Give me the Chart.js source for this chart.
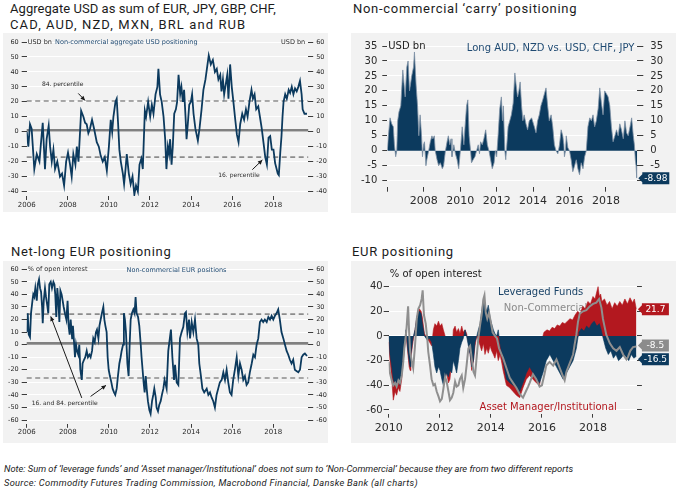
<!DOCTYPE html>
<html>
<head>
<meta charset="utf-8">
<title>CFTC positioning</title>
<script src="https://cdn.jsdelivr.net/npm/chart.js"></script>
<style>
  body { margin: 0; background: #fff; font-family: Roboto, "DejaVu Sans", sans-serif; }
  .page { position: relative; width: 686px; height: 500px; overflow: hidden; }
  .title { position: absolute; font-size: 13px; line-height: 16px; color: #1c1c1c; white-space: nowrap; letter-spacing: 0.7px; }
  .panel { position: absolute; width: 325px; background: #f2f2f2; }
  .note { position: absolute; left: 4px; font-size: 9.3px; font-style: italic; color: #222; white-space: nowrap; }
</style>
</head>
<body>
<div class="page">
  <div class="title" style="left:10px; top:1px"><span style="letter-spacing:0.05px">Aggregate USD as sum of EUR, JPY, GBP, CHF,</span><br><span style="letter-spacing:1.1px">CAD, AUD, NZD, MXN, BRL and RUB</span></div>
  <div class="title" style="left:353px; top:1px">Non-commercial ‘carry’ positioning</div>
  <div class="title" style="left:11px; top:244px">Net-long EUR positioning</div>
  <div class="title" style="left:352px; top:244px">EUR positioning</div>
  <div class="panel" style="left:3px; top:33px; height:179px"><canvas id="usdChart"></canvas></div>
  <div class="panel" style="left:351px; top:33px; height:180px"><canvas id="carryChart"></canvas></div>
  <div class="panel" style="left:3px; top:261px; height:182px"><canvas id="eurChart"></canvas></div>
  <div class="panel" style="left:351px; top:261px; height:182px"><canvas id="eurSplitChart"></canvas></div>
  <div class="note" style="top:463px">Note: Sum of ‘leverage funds’ and ‘Asset manager/Institutional’ does not sum to ‘Non-Commercial’ because they are from two different reports</div>
  <div class="note" style="top:477px; letter-spacing:0.3px">Source: Commodity Futures Trading Commission, Macrobond Financial, Danske Bank (all charts)</div>
</div>
<script>
// ---- data ----
const usdDates = [
  2006.00, 2006.08, 2006.16, 2006.24, 2006.37, 2006.49, 2006.62, 2006.68, 2006.78, 2006.89, 2006.97,
  2007.07, 2007.14, 2007.22, 2007.30, 2007.38, 2007.49, 2007.62, 2007.72, 2007.82, 2007.92,
  2008.01, 2008.11, 2008.19, 2008.27, 2008.37, 2008.44, 2008.52, 2008.65, 2008.76, 2008.84, 2008.92,
  2009.00, 2009.08, 2009.18, 2009.28, 2009.41, 2009.51, 2009.60, 2009.70, 2009.80, 2009.90,
  2010.00, 2010.09, 2010.16, 2010.22, 2010.32, 2010.38, 2010.45, 2010.51, 2010.58, 2010.68, 2010.74, 2010.81, 2010.87, 2010.97,
  2011.06, 2011.15, 2011.24, 2011.32, 2011.41, 2011.49, 2011.58, 2011.65, 2011.75, 2011.81, 2011.91,
  2012.01, 2012.09, 2012.17, 2012.27, 2012.36, 2012.41, 2012.49, 2012.57, 2012.66, 2012.74, 2012.80, 2012.87, 2012.93, 2012.98,
  2013.05, 2013.11, 2013.18, 2013.26, 2013.32, 2013.39, 2013.47, 2013.53, 2013.60, 2013.66, 2013.73, 2013.78, 2013.84, 2013.91, 2013.99,
  2014.05, 2014.12, 2014.21, 2014.33, 2014.41, 2014.51, 2014.60, 2014.70, 2014.77, 2014.86, 2014.96,
  2015.06, 2015.16, 2015.25, 2015.33, 2015.42, 2015.48, 2015.55, 2015.61, 2015.69, 2015.76, 2015.82, 2015.90, 2015.98,
  2016.06, 2016.15, 2016.23, 2016.31, 2016.39, 2016.49, 2016.58, 2016.67, 2016.75, 2016.84, 2016.94,
  2017.01, 2017.09, 2017.17, 2017.27, 2017.35, 2017.44, 2017.53, 2017.61, 2017.69, 2017.77, 2017.85, 2017.93,
  2018.01, 2018.09, 2018.22, 2018.27, 2018.34, 2018.40, 2018.45, 2018.50, 2018.58, 2018.66, 2018.75, 2018.82, 2018.90, 2018.98,
  2019.06, 2019.14, 2019.22, 2019.30, 2019.38, 2019.43, 2019.52, 2019.64
];
const usdValues = [
  0, -10, 5, 2, -25, -15, -20, -10, 6, -25, -5,
  4, -10, -20, -12, -25, -20, -30, -28, -36, -20,
  -14, -22, -30, -15, -22, -10, -20, 14, 10, 6, 5,
  -1, 2, 8, 2, -7, -10, -16, -20, -17, -26,
  -10, 8, 0, 10, 20, 22, 5, -12, -20, -28, -35, -25, -15, -28,
  -35, -30, -42, -36, -40, -22, -18, -25, 14, 10, 20,
  10, 18, 12, 25, 30, 42, 25, 20, 10, -5, -25, -10, -15, -5,
  -22, -10, 12, 15, 20, 38, 25, 30, 20, 28, 10, -5, 5, 18, 20,
  25, 12, 2, -6, 2, 15, 28, 35, 42, 51, 45,
  48, 40, 42, 35, 38, 27, 35, 25, 32, 38, 22, 45, 30,
  20, 8, -2, -7, 5, 12, 8, 15, 10, 20, 28,
  22, 25, 15, 17, 10, 2, -8, -17, -22, -4, -3, -12,
  -12, -21, -28, -29, -14, -3, 10, 20, 25, 22, 28, 26, 30, 25,
  29, 27, 30, 34, 25, 15, 12, 12
];
const usdBands = [20.5, -17];   // 84. and 16. percentile
const usdMean = 1;

const carryDates = [
  2006.00, 2006.06, 2006.15, 2006.24, 2006.33, 2006.39, 2006.46, 2006.52, 2006.57, 2006.64, 2006.74, 2006.85, 2006.98,
  2007.07, 2007.14, 2007.22, 2007.34, 2007.44, 2007.49, 2007.58, 2007.66, 2007.73, 2007.80, 2007.88, 2007.93, 2007.99,
  2008.04, 2008.12, 2008.17, 2008.27, 2008.36, 2008.45, 2008.50, 2008.58, 2008.63, 2008.73, 2008.82, 2008.91,
  2009.02, 2009.09, 2009.19, 2009.28, 2009.35, 2009.43, 2009.50, 2009.55, 2009.65, 2009.74, 2009.83, 2009.92,
  2010.01, 2010.11, 2010.20, 2010.29, 2010.35, 2010.42, 2010.49, 2010.57, 2010.62, 2010.71, 2010.81, 2010.90, 2010.99,
  2011.06, 2011.12, 2011.21, 2011.30, 2011.40, 2011.49, 2011.58, 2011.67, 2011.76, 2011.86, 2011.93,
  2012.00, 2012.08, 2012.17, 2012.26, 2012.32, 2012.37, 2012.45, 2012.50, 2012.56, 2012.63, 2012.72, 2012.81, 2012.91,
  2013.00, 2013.07, 2013.15, 2013.22, 2013.29, 2013.37, 2013.44, 2013.51, 2013.61, 2013.70, 2013.79, 2013.92, 2013.97,
  2014.07, 2014.16, 2014.25, 2014.34, 2014.43, 2014.53, 2014.62, 2014.71, 2014.80, 2014.89, 2014.99,
  2015.08, 2015.17, 2015.26, 2015.36, 2015.45, 2015.54, 2015.63, 2015.69, 2015.72, 2015.78, 2015.82, 2015.91,
  2016.00, 2016.09, 2016.18, 2016.28, 2016.37, 2016.46, 2016.55, 2016.64, 2016.74, 2016.83, 2016.92,
  2017.01, 2017.11, 2017.20, 2017.29, 2017.38, 2017.47, 2017.57, 2017.66, 2017.75, 2017.84, 2017.93,
  2018.03, 2018.12, 2018.21, 2018.30, 2018.39, 2018.49, 2018.58, 2018.67, 2018.76, 2018.85, 2018.95,
  2019.04, 2019.13, 2019.22, 2019.32, 2019.41, 2019.50, 2019.56, 2019.61, 2019.65, 2019.69, 2019.72
];
const carryValues = [
  0, 5, 11, 9, 8, 2, -2, 0, 10, 13, 15, 27, 18,
  28, 30, 20, 25, 28, 33, 22, 15, 5, 12, 5, -2, 2,
  3, -5, -3, 0, 3, 5, 4, 5, 0, -3, -5, -4,
  -6, -5, 0, 3, 5, 2, 4, -2, 2, -1, -3, -6,
  0, 8, 2, 10, 15, 17, 5, 0, -4, -3, -2, 0, 2,
  -1, 3, 2, 4, 7, 2, 0, -3, -6, -4, 0,
  -2, 5, 14, 18, 10, 15, 0, -3, 2, 8, 10, 12, 16,
  26, 22, 18, 20, 23, 15, 10, 12, 9, 7, 10, 11, 10,
  8, 6, 10, 12, 15, 17, 19, 21, 15, 10, 12,
  8, 2, 0, -1, 2, 7, 5, 2, -2, 0, 5, 1,
  0, -3, -7, -5, -3, -6, -8, -4, -6, -2, 0,
  8, 11, 10, 12, 8, 10, 14, 21, 16, 12, 20,
  19, 18, 15, 8, 3, 5, 7, 5, 9, 7, 4,
  10, 6, 5, 8, 11, 5, 2, -3, -5, -9, -8.98
];

const eurDates = [
  2006.00, 2006.05, 2006.10, 2006.16, 2006.21, 2006.28, 2006.32, 2006.37, 2006.42, 2006.49, 2006.54, 2006.60, 2006.65, 2006.70, 2006.75, 2006.78, 2006.83, 2006.89, 2006.94,
  2007.01, 2007.05, 2007.10, 2007.17, 2007.23, 2007.30, 2007.35, 2007.39, 2007.44, 2007.49, 2007.54, 2007.59, 2007.64, 2007.70, 2007.75, 2007.80, 2007.86, 2007.93, 2007.99,
  2008.04, 2008.09, 2008.14, 2008.21, 2008.25, 2008.30, 2008.35, 2008.40, 2008.45, 2008.51, 2008.56, 2008.61, 2008.68, 2008.72, 2008.79, 2008.85, 2008.92, 2008.98,
  2009.05, 2009.11, 2009.18, 2009.24, 2009.31, 2009.37, 2009.42, 2009.49, 2009.54, 2009.60, 2009.66, 2009.73, 2009.78, 2009.83, 2009.89, 2009.94, 2009.99,
  2010.05, 2010.12, 2010.18, 2010.25, 2010.31, 2010.38, 2010.44, 2010.51, 2010.57, 2010.62, 2010.69, 2010.73, 2010.78, 2010.83, 2010.90, 2010.96,
  2011.01, 2011.06, 2011.12, 2011.19, 2011.25, 2011.30, 2011.35, 2011.42, 2011.48, 2011.55, 2011.59, 2011.64, 2011.69, 2011.74, 2011.79, 2011.84, 2011.90, 2011.97,
  2012.03, 2012.10, 2012.16, 2012.21, 2012.28, 2012.32, 2012.39, 2012.45, 2012.52, 2012.58, 2012.65, 2012.71, 2012.81, 2012.89,
  2013.02, 2013.09, 2013.17, 2013.22, 2013.30, 2013.38, 2013.46, 2013.54, 2013.62, 2013.70, 2013.75, 2013.82, 2013.90, 2013.95,
  2014.03, 2014.11, 2014.19, 2014.27, 2014.35, 2014.40, 2014.48, 2014.55, 2014.64, 2014.76, 2014.84, 2014.92,
  2015.00, 2015.08, 2015.16, 2015.24, 2015.32, 2015.40, 2015.49, 2015.57, 2015.65, 2015.73, 2015.81, 2015.89, 2015.97,
  2016.05, 2016.13, 2016.22, 2016.30, 2016.38, 2016.46, 2016.54, 2016.62, 2016.70, 2016.78, 2016.86, 2016.95,
  2017.03, 2017.11, 2017.19, 2017.27, 2017.35, 2017.43, 2017.51, 2017.59, 2017.68, 2017.76, 2017.84, 2017.92,
  2018.00, 2018.08, 2018.16, 2018.24, 2018.32, 2018.40, 2018.49, 2018.57, 2018.65, 2018.73, 2018.81, 2018.89, 2018.97,
  2019.05, 2019.13, 2019.22, 2019.30, 2019.38, 2019.46, 2019.54, 2019.64
];
const eurValues = [
  10, 25, 8, 6, 25, 35, 40, 38, 45, 35, 48, 52, 45, 42, 30, 17, 35, 45, 38,
  30, 25, 48, 50, 45, 50, 48, 40, 22, 45, 35, 18, 43, 40, 35, 30, 25, 20, 35,
  15, 8, 20, 5, 15, 3, -10, 0, -5, -8, 0, -20, -28, -15, -12, -10, -5, -10,
  -8, -10, -5, 5, 2, 10, 12, 5, 15, 20, 25, 30, 20, 15, 10, -10, -20,
  -25, -30, -35, -38, -40, -35, -25, -15, -10, -5, 0, 25, 20, 10, -15, -25,
  0, 20, 25, 28, 25, 38, 25, 22, 15, 0, -10, -20, -30, -38, -25, -35, -45, -52,
  -55, -45, -40, -35, -42, -50, -53, -48, -45, -40, -35, -28, -35, -5,
  12, -10, -28, -16, -30, -32, 5, 10, 14, 25, 26, 10, 20, 5,
  18, 10, 20, 5, 0, -15, -25, -35, -38, -35, -40, -38,
  -42, -45, -50, -40, -35, -30, -28, -22, -28, -20, -30, -38, -40,
  -28, -20, -10, -25, -15, -20, -28, -25, -32, -30, -22, -15,
  -8, -10, 0, 5, 18, 20, 18, 20, 18, 22, 20, 23,
  20, 23, 25, 28, 20, 10, 5, 0, -5, -8, -12, -15, -12,
  -20, -21, -22, -20, -10, -8, -7, -9
];
const eurBands = [24.3, -26.5];
const eurMean = 1;

// Non-Commercial (grey line)
const ncDates = [
  2010.00, 2010.05, 2010.12, 2010.18, 2010.25, 2010.31, 2010.38, 2010.44, 2010.51, 2010.57, 2010.61, 2010.67, 2010.70, 2010.76, 2010.80, 2010.84, 2010.90, 2010.96,
  2011.03, 2011.10, 2011.16, 2011.23, 2011.29, 2011.33, 2011.38, 2011.45, 2011.51, 2011.55, 2011.62, 2011.68, 2011.75, 2011.81, 2011.88, 2011.95,
  2012.01, 2012.08, 2012.14, 2012.21, 2012.27, 2012.34, 2012.40, 2012.47, 2012.53, 2012.60, 2012.66, 2012.73, 2012.79, 2012.86, 2012.92, 2012.99,
  2013.05, 2013.12, 2013.19, 2013.25, 2013.32, 2013.38, 2013.45, 2013.51, 2013.58, 2013.64, 2013.71, 2013.75, 2013.80, 2013.86, 2013.93,
  2014.00, 2014.07, 2014.16, 2014.24, 2014.32, 2014.48, 2014.61, 2014.74, 2014.87,
  2015.00, 2015.13, 2015.26, 2015.37, 2015.46, 2015.52, 2015.65, 2015.78, 2015.91,
  2016.00, 2016.10, 2016.17, 2016.30, 2016.44, 2016.57, 2016.70, 2016.83, 2016.89, 2016.96,
  2017.09, 2017.22, 2017.28, 2017.35, 2017.41, 2017.48, 2017.61, 2017.74, 2017.87,
  2018.00, 2018.13, 2018.24, 2018.33, 2018.39, 2018.46, 2018.52, 2018.66, 2018.79, 2018.92,
  2019.05, 2019.18, 2019.31, 2019.37, 2019.46, 2019.57, 2019.70
];
const ncValues = [
  -21, -30, -36, -40, -38, -41, -36, -38, -32, -21, -10, 0, 7, 24, 3, -13, -20, -26,
  -8, 14, 22, 25, 30, 37, 17, 10, -2, -13, -24, -35, -40, -39, -45, -49,
  -53, -51, -43, -33, -37, -45, -52, -50, -46, -37, -41, -40, -35, -32, -42, -35,
  -24, -10, -8, -18, -29, -32, -16, -2, 9, 17, 30, 33, 19, 14, 19,
  11, 3, 0, -2, -10, -18, -26, -34, -38,
  -42, -47, -50, -45, -41, -38, -31, -35, -41,
  -40, -31, -24, -21, -24, -19, -26, -33, -36, -29,
  -22, -15, -7, 1, 11, 18, 20, 21, 24,
  26, 27, 30, 23, 14, 7, 1, -6, -10, -12,
  -9, -15, -19, -17, -12, -9, -8.5
];

// Leveraged Funds (navy area)
const levDates = [
  2010.00, 2010.05, 2010.12, 2010.18, 2010.25, 2010.31, 2010.38, 2010.44, 2010.51, 2010.57, 2010.61, 2010.67, 2010.70, 2010.74, 2010.80, 2010.84, 2010.87, 2010.93, 2010.97,
  2011.03, 2011.10, 2011.16, 2011.20, 2011.27, 2011.32, 2011.36, 2011.40, 2011.50, 2011.60, 2011.68, 2011.75, 2011.81, 2011.88, 2011.95,
  2012.01, 2012.08, 2012.14, 2012.21, 2012.27, 2012.34, 2012.40, 2012.47, 2012.53, 2012.60, 2012.66, 2012.73, 2012.79, 2012.86, 2012.92, 2012.99,
  2013.05, 2013.12, 2013.19, 2013.25, 2013.32, 2013.38, 2013.45, 2013.51, 2013.58, 2013.64, 2013.71, 2013.77, 2013.84, 2013.90, 2013.97,
  2014.03, 2014.10, 2014.16, 2014.23, 2014.29, 2014.35, 2014.48, 2014.61, 2014.74, 2014.87,
  2015.00, 2015.13, 2015.26, 2015.39, 2015.52, 2015.65, 2015.78, 2015.91,
  2016.04, 2016.17, 2016.31, 2016.44, 2016.57, 2016.70, 2016.83, 2016.96,
  2017.09, 2017.22, 2017.35, 2017.42, 2017.45, 2017.55, 2017.65, 2017.75, 2017.85, 2017.95,
  2018.05, 2018.15, 2018.25, 2018.32, 2018.40, 2018.50, 2018.60, 2018.70, 2018.80, 2018.90,
  2019.00, 2019.10, 2019.20, 2019.30, 2019.40, 2019.50, 2019.60, 2019.70
];
const levValues = [
  0, -15, -25, -35, -40, -38, -35, -40, -30, -15, -10, 5, 0, -10, -20, -25, -15, -5, 0,
  5, 15, 18, 20, 18, 10, 5, 0, -3, -2, -5, -15, -25, -30, -25,
  -28, -35, -40, -35, -30, -33, -28, -30, -20, -25, -30, -20, -10, -5, -2, 5,
  0, -8, -15, -25, -20, -5, 0, 5, 10, 20, 30, 25, 20, 25, 15,
  10, 5, 2, 0, 5, -5, -20, -35, -38, -40,
  -42, -45, -38, -30, -25, -30, -35, -38,
  -30, -20, -15, -20, -25, -30, -35, -30,
  -25, -20, -10, 0, 3, 6, 4, 8, 6, 10,
  12, 8, 10, 5, -2, -10, -15, -12, -18, -15,
  -20, -18, -15, -17, -20, -15, -18, -16.5
];

// Asset Manager/Institutional (red area)
const amDates = [
  2010.00, 2010.05, 2010.12, 2010.18, 2010.25, 2010.31, 2010.38, 2010.44, 2010.51, 2010.57, 2010.61, 2010.67, 2010.70, 2010.74, 2010.80, 2010.84, 2010.87, 2010.93, 2010.97,
  2011.03, 2011.10, 2011.16, 2011.20, 2011.27, 2011.32, 2011.36, 2011.40, 2011.50, 2011.60, 2011.68, 2011.75, 2011.81, 2011.88, 2011.95,
  2012.01, 2012.08, 2012.14, 2012.21, 2012.27, 2012.34, 2012.40, 2012.47, 2012.53, 2012.60, 2012.66, 2012.73, 2012.79, 2012.86, 2012.92, 2012.99,
  2013.05, 2013.12, 2013.19, 2013.25, 2013.32, 2013.38, 2013.45, 2013.51, 2013.58, 2013.64, 2013.71, 2013.77, 2013.84, 2013.90, 2013.97,
  2014.03, 2014.10, 2014.16, 2014.23, 2014.29, 2014.36, 2014.43, 2014.48, 2014.61, 2014.74, 2014.87,
  2015.00, 2015.13, 2015.26, 2015.39, 2015.52, 2015.65, 2015.78, 2015.91, 2015.98,
  2016.04, 2016.08, 2016.20, 2016.30, 2016.40, 2016.50, 2016.60, 2016.70, 2016.80, 2016.90,
  2017.00, 2017.10, 2017.20, 2017.30, 2017.40, 2017.50, 2017.60, 2017.70, 2017.80, 2017.90,
  2018.00, 2018.08, 2018.15, 2018.20, 2018.25, 2018.30, 2018.35, 2018.45, 2018.55, 2018.65, 2018.75, 2018.85, 2018.95,
  2019.05, 2019.15, 2019.25, 2019.35, 2019.45, 2019.55, 2019.62, 2019.70
];
const amValues = [
  -5, -20, -35, -52, -45, -48, -42, -45, -35, -20, -12, 0, -3, -12, -25, -28, -18, -8, -2,
  5, 15, 20, 22, 20, 15, 8, 2, -2, -5, -8, 5, 10, 8, 12,
  8, 10, 5, 0, -30, -38, -35, -20, 5, 8, 3, 6, 2, 8, 3, 5,
  2, -5, -15, -28, -20, -8, 0, -3, -8, -12, -6, -15, -10, -14, -8,
  -12, -15, -18, -12, -20, -15, -22, -28, -40, -42, -45,
  -48, -50, -42, -35, -32, -35, -38, -40, -25,
  0, 3, 5, 4, 7, 6, 9, 8, 11, 10,
  12, 14, 13, 17, 20, 18, 24, 22, 28, 26,
  32, 30, 36, 40, 32, 34, 28, 30, 25, 28, 22, 27, 24,
  28, 25, 30, 26, 31, 27, 30, 21.7
];

const years2006 = [2006, 2008, 2010, 2012, 2014, 2016, 2018];
const years2010 = [2010, 2012, 2014, 2016, 2018];
const usdTicks = [-40, -30, -20, -10, 0, 10, 20, 30, 40, 50, 60];
const carryTicks = [-10, -5, 0, 5, 10, 15, 20, 25, 30, 35];
const eurTicks = [-60, -50, -40, -30, -20, -10, 0, 10, 20, 30, 40, 50, 60];
const splitTicks = [-60, -50, -40, -30, -20, -10, 0, 10, 20, 30, 40, 50];

// ---- helpers ----
Chart.defaults.font.family = '"DejaVu Sans", sans-serif';
Chart.defaults.color = '#2b2b2b';

const NAVY = '#0c3a5e';
const RED = '#b3181f';
const GREY = '#8c8c8c';
const TICK = '#3c3c3c';

function points(xs, ys) { return xs.map((x, i) => ({ x: x, y: ys[i] })); }

function yearAxis(min, max, years, h, size, tl, pad, hideFirst) {
    return {
        type: 'linear', min: min, max: max,
        afterBuildTicks: s => { s.ticks = years.map(v => ({ value: v })); },
        afterFit: s => { s.height = h; },
        border: { display: false },
        grid: { drawOnChartArea: false, tickLength: tl, tickColor: TICK },
        ticks: { font: { size: size }, padding: pad, maxRotation: 0, autoSkip: false,
                 callback: v => (hideFirst && v === years[0]) ? '' : String(v) }
    };
}

function valueAxis(pos, min, max, list, w, size, tl, pad, onArea, labelFn) {
    return {
        type: 'linear', position: pos, min: min, max: max,
        afterBuildTicks: s => { s.ticks = list.map(v => ({ value: v })); },
        afterFit: s => { s.width = w; },
        border: { display: false },
        grid: { drawOnChartArea: onArea, color: '#ffffff', tickColor: TICK, tickLength: tl },
        ticks: { font: { size: size }, padding: pad, callback: labelFn || (v => String(v)) }
    };
}

function refLine(chart, value, color, lw, dash) {
    const ctx = chart.ctx, a = chart.chartArea, y = chart.scales.y.getPixelForValue(value);
    ctx.save();
    ctx.strokeStyle = color; ctx.lineWidth = lw; ctx.setLineDash(dash || []);
    ctx.beginPath(); ctx.moveTo(a.left, y); ctx.lineTo(a.right, y); ctx.stroke();
    ctx.restore();
}

function label(chart, str, xv, yv, size, color, align) {
    const ctx = chart.ctx;
    const x = typeof xv === 'string' ? (xv === 'left' ? chart.chartArea.left + 1 : chart.chartArea.right - 3) : chart.scales.x.getPixelForValue(xv);
    ctx.save();
    ctx.font = size + 'px "DejaVu Sans"';
    ctx.fillStyle = color; ctx.textAlign = align || 'left'; ctx.textBaseline = 'middle';
    ctx.fillText(str, x, chart.scales.y.getPixelForValue(yv));
    ctx.restore();
}

function arrow(chart, x1, y1, x2, y2) {
    const ctx = chart.ctx, sx = chart.scales.x, sy = chart.scales.y;
    const ax = sx.getPixelForValue(x1), ay = sy.getPixelForValue(y1);
    const bx = sx.getPixelForValue(x2), by = sy.getPixelForValue(y2);
    const ang = Math.atan2(by - ay, bx - ax);
    ctx.save();
    ctx.strokeStyle = '#1a1a1a'; ctx.fillStyle = '#1a1a1a'; ctx.lineWidth = 1;
    ctx.beginPath(); ctx.moveTo(ax, ay); ctx.lineTo(bx, by); ctx.stroke();
    ctx.beginPath(); ctx.moveTo(bx, by);
    ctx.lineTo(bx - 5 * Math.cos(ang - 0.45), by - 5 * Math.sin(ang - 0.45));
    ctx.lineTo(bx - 5 * Math.cos(ang + 0.45), by - 5 * Math.sin(ang + 0.45));
    ctx.closePath(); ctx.fill();
    ctx.restore();
}

// value box at the right edge, with a small pointer
function tag(chart, value, str, bg, shift) {
    const ctx = chart.ctx;
    const x = chart.chartArea.right + 1;
    const y = chart.scales.y.getPixelForValue(value) + (shift || 0);
    const w = 27, h = 12;
    ctx.save();
    ctx.fillStyle = bg;
    ctx.beginPath();
    ctx.moveTo(x, y); ctx.lineTo(x + 4, y - 4); ctx.lineTo(x + 4, y - h / 2);
    ctx.lineTo(x + 4 + w, y - h / 2); ctx.lineTo(x + 4 + w, y + h / 2);
    ctx.lineTo(x + 4, y + h / 2); ctx.lineTo(x + 4, y + 4);
    ctx.closePath(); ctx.fill();
    ctx.fillStyle = '#ffffff'; ctx.font = '9px "DejaVu Sans"';
    ctx.textAlign = 'center'; ctx.textBaseline = 'middle';
    ctx.fillText(str, x + 4 + w / 2, y + 0.5);
    ctx.restore();
}

const baseOptions = {
    responsive: true,
    maintainAspectRatio: false,
    animation: false,
    plugins: { legend: { display: false }, tooltip: { enabled: false } }
};

// ---- 1: aggregate USD ----
new Chart(document.getElementById('usdChart'), {
    type: 'line',
    data: { datasets: [{ data: points(usdDates, usdValues), borderColor: NAVY, borderWidth: 1.8, pointRadius: 0, tension: 0 }] },
    options: Object.assign({}, baseOptions, {
        layout: { padding: { top: 9 } },
        scales: {
            x: yearAxis(2006, 2019.7, years2006, 16, 7, 4, 0.5, false),
            y: valueAxis('left', -43, 60, usdTicks, 23.7, 6.5, 5, 3, true),
            y2: valueAxis('right', -43, 60, usdTicks, 19.8, 6.5, 5, 3, false)
        }
    }),
    plugins: [{
        id: 'usdNotes',
        beforeDatasetsDraw(chart) {
            refLine(chart, usdBands[0], GREY, 1.6, [5, 3.5]);
            refLine(chart, usdBands[1], GREY, 1.6, [5, 3.5]);
            refLine(chart, usdMean, '#808080', 2.6);
        },
        afterDatasetsDraw(chart) {
            label(chart, 'USD bn', 'left', 60, 6.5, '#2b2b2b');
            label(chart, 'Non-commercial aggregate USD positioning', 2007.38, 60, 6.5, '#1f4a72');
            label(chart, 'USD bn', 'right', 60, 6.5, '#2b2b2b', 'right');
            label(chart, '84. percentile', 2006.74, 31.3, 6, '#2b2b2b');
            arrow(chart, 2008.51, 25.6, 2008.84, 20.9);
            label(chart, '16. percentile', 2015.32, -29.4, 6, '#2b2b2b');
            arrow(chart, 2016.98, -25.4, 2017.47, -18.9);
        }
    }]
});

// ---- 2: carry ----
new Chart(document.getElementById('carryChart'), {
    type: 'line',
    data: { datasets: [{ data: points(carryDates, carryValues), borderColor: '#7d90a4', borderWidth: 0.8,
                         backgroundColor: NAVY, fill: 'origin', pointRadius: 0, tension: 0 }] },
    options: Object.assign({}, baseOptions, {
        layout: { padding: { top: 12.3 } },
        scales: {
            x: yearAxis(2006, 2019.72, years2006, 26.3, 11, 5, 3, true),
            y: valueAxis('left', -12, 35, carryTicks, 36.3, 10, 5, 5, true),
            y2: valueAxis('right', -12, 35, carryTicks, 38.7, 10, 6, 7, false)
        }
    }),
    plugins: [{
        id: 'carryNotes',
        afterDatasetsDraw(chart) {
            label(chart, 'USD bn', 'left', 35, 10, '#222');
            label(chart, 'Long AUD, NZD vs. USD, CHF, JPY', 'right', 34.3, 10, '#1f4a72', 'right');
            tag(chart, carryValues[carryValues.length - 1], String(carryValues[carryValues.length - 1]), NAVY, 0.5);
        }
    }]
});

// ---- 3: net-long EUR ----
new Chart(document.getElementById('eurChart'), {
    type: 'line',
    data: { datasets: [{ data: points(eurDates, eurValues), borderColor: NAVY, borderWidth: 1.8, pointRadius: 0, tension: 0 }] },
    options: Object.assign({}, baseOptions, {
        layout: { padding: { top: 8.3 } },
        scales: {
            x: yearAxis(2006, 2019.7, years2006, 19.2, 7, 4, 0.5, false),
            y: valueAxis('left', -63, 60, eurTicks, 23.7, 6.5, 5, 3, true),
            y2: valueAxis('right', -63, 60, eurTicks, 19.8, 6.5, 5, 3, false)
        }
    }),
    plugins: [{
        id: 'eurNotes',
        beforeDatasetsDraw(chart) {
            refLine(chart, eurBands[0], GREY, 1.6, [5, 3.5]);
            refLine(chart, eurBands[1], GREY, 1.6, [5, 3.5]);
            refLine(chart, eurMean, '#808080', 2.6);
        },
        afterDatasetsDraw(chart) {
            label(chart, '% of open interest', 'left', 60, 6.5, '#2b2b2b');
            label(chart, 'Non-commercial EUR positions', 2013.29, 59.5, 6.5, '#1f4a72', 'center');
            label(chart, '16. and 84. percentile', 2006.24, -46.4, 6, '#2b2b2b');
            arrow(chart, 2008.68, -42.4, 2007.17, 22.5);
            arrow(chart, 2009.11, -41.2, 2009.86, -32.4);
        }
    }]
});

// ---- 4: EUR positioning split ----
new Chart(document.getElementById('eurSplitChart'), {
    type: 'line',
    data: {
        datasets: [
            { label: 'Non-Commercial', data: points(ncDates, ncValues), borderColor: '#8f8f8f', borderWidth: 2,
              pointRadius: 0, tension: 0, order: 0 },
            { label: 'Leveraged Funds', data: points(levDates, levValues), borderColor: NAVY, borderWidth: 0.6,
              backgroundColor: NAVY, fill: 'origin', pointRadius: 0, tension: 0, order: 1 },
            { label: 'Asset Manager/Institutional', data: points(amDates, amValues), borderColor: RED, borderWidth: 0.6,
              backgroundColor: RED, fill: 'origin', pointRadius: 0, tension: 0, order: 2 }
        ]
    },
    options: Object.assign({}, baseOptions, {
        layout: { padding: { top: 13.3 } },
        scales: {
            x: yearAxis(2010, 2019.72, years2010, 29.3, 11, 4, 4, false),
            y: valueAxis('left', -63, 50, splitTicks, 37.7, 10, 5, 1, true, v => (v % 20 === 0 && v !== 50) ? String(v) : ''),
            y2: valueAxis('right', -63, 50, splitTicks, 39.1, 10, 5, 1, false, () => '')
        }
    }),
    plugins: [{
        id: 'splitNotes',
        beforeDatasetsDraw(chart) {
            label(chart, 'Non-Commercial', 2014.51, 22.4, 10, '#8a8a8a');
        },
        afterDatasetsDraw(chart) {
            label(chart, '% of open interest', 'left', 50, 10, '#222');
            label(chart, 'Leveraged Funds', 2014.28, 35.7, 10, '#1b4468');
            label(chart, 'Asset Manager/Institutional', 2013.56, -58.1, 10, RED);
            tag(chart, amValues[amValues.length - 1], String(amValues[amValues.length - 1]), RED, 0);
            tag(chart, ncValues[ncValues.length - 1], String(ncValues[ncValues.length - 1]), '#8c8c8c', -1);
            tag(chart, levValues[levValues.length - 1], String(levValues[levValues.length - 1]), NAVY, 3);
        }
    }]
});
</script>
</body>
</html>
